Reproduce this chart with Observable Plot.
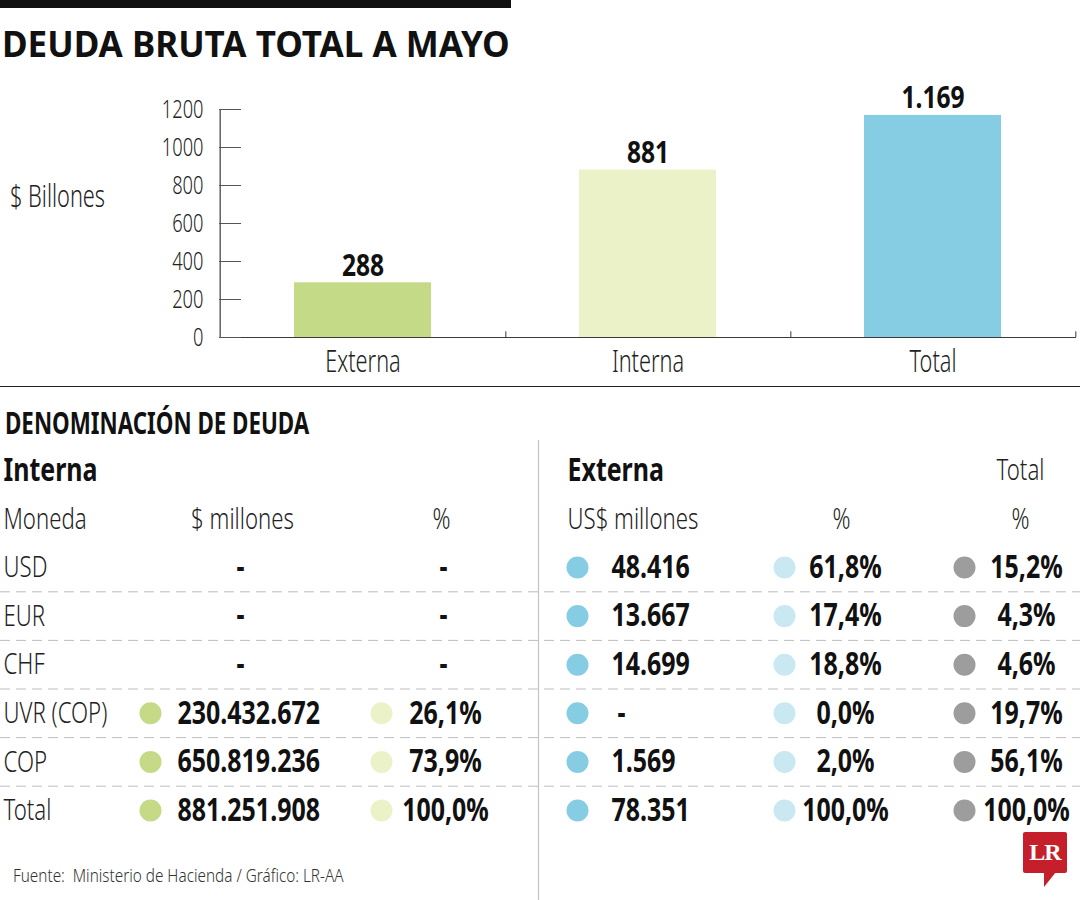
<!DOCTYPE html>
<html lang="es">
<head>
<meta charset="utf-8">
<title>Deuda bruta total a mayo</title>
<script src="https://cdn.jsdelivr.net/npm/d3@7"></script>
<script src="https://cdn.jsdelivr.net/npm/@observablehq/plot@0.6"></script>
<style>
  html, body { margin: 0; padding: 0; background: #fff; }
  #page { position: relative; width: 1080px; height: 900px; overflow: hidden; background: #fff; color: #1a1a1a;
          font-family: "Noto Sans", "Open Sans", sans-serif; }
  #page .abs { position: absolute; white-space: nowrap; line-height: 1; }
  /* condensed look: glyphs narrowed horizontally from the left edge */
  #page .narrow { transform-origin: 0 0; }
  #topbar { left: 0; top: 0; width: 511px; height: 8px; background: #111; }
  #title { left: 2px; top: 26px; font-size: 35px; font-weight: 700; color: #111; }
  #unit { left: 10px; top: 179px; font-size: 32px; font-weight: 300; color: #222; transform: scaleX(0.68); }
  #hr { left: 0; top: 386px; width: 1080px; height: 0; border-top: 1.5px solid #222; }
  #subtitle { left: 5px; top: 408px; font-size: 30px; font-weight: 700; color: #111; transform: scaleX(0.745); }
  #source { left: 13px; top: 866px; font-size: 18px; font-weight: 300; color: #333; transform: scaleX(0.85); }
  #bars { position: absolute; left: 0; top: 80px; }
  #table { position: absolute; left: 0; top: 440px; }
  #logo { left: 1023px; top: 832px; width: 44px; height: 41px; background: #c41f2b; color: #fff; border-radius: 2px;
          font-family: "Liberation Serif", "DejaVu Serif", serif; font-weight: 700; font-size: 24px;
          line-height: 41px !important; text-align: center; letter-spacing: -1px; }
  #logotail { left: 1044px; top: 872px; width: 0; height: 0; border-top: 15px solid #c41f2b; border-right: 12px solid transparent; }
  #page svg { font-family: "Noto Sans", "Open Sans", sans-serif; }
</style>
</head>
<body>
<div id="page">
  <div id="topbar" class="abs"></div>
  <div id="title" class="abs">DEUDA BRUTA TOTAL A MAYO</div>
  <div id="unit" class="abs narrow">$ Billones</div>
  <div id="bars"></div>
  <div id="hr" class="abs"></div>
  <div id="subtitle" class="abs narrow">DENOMINACIÓN DE DEUDA</div>
  <div id="table"></div>
  <div id="source" class="abs narrow">Fuente:&nbsp; Ministerio de Hacienda / Gráfico: LR-AA</div>
  <div id="logo" class="abs">LR</div>
  <div id="logotail" class="abs"></div>
</div>
<script>
// ---- Deuda bruta total (billones de pesos) ----
const cats = ["Externa", "Interna", "Total"];
const totals = [288, 881, 1169];
const barColors = ["#c5da87", "#ecf2c7", "#86cde4"];
const yTicks = [0, 200, 400, 600, 800, 1000, 1200];

// ---- Denominación de deuda ----
const monedas = ["USD", "EUR", "CHF", "UVR (COP)", "COP", "Total"];
const internaMillones = [null, null, null, 230432672, 650819236, 881251908];
const internaPct = [null, null, null, 26.1, 73.9, 100.0];
const externaMillones = [48416, 13667, 14699, null, 1569, 78351];
const externaPct = [61.8, 17.4, 18.8, 0.0, 2.0, 100.0];
const totalPct = [15.2, 4.3, 4.6, 19.7, 56.1, 100.0];

// Spanish number formatting: "." for thousands, "," for decimals
const es = d3.formatLocale({decimal: ",", thousands: ".", grouping: [3], currency: ["$", ""]});
const fmtInt = es.format(",d");
const fmtPct = (v) => es.format(".1f")(v) + "%";

const fontStack = '"Noto Sans", "Open Sans", sans-serif';
const W = 1080;

// Narrow every text of a rendered plot around its own anchor point,
// light text a bit more than bold text, for a condensed typeface look.
function condense(svg, lightScale = 0.7, boldScale = 0.78) {
  svg.querySelectorAll("text").forEach((t) => {
    const g = t.closest("[font-weight]");
    const w = g ? +g.getAttribute("font-weight") : 400;
    const s = w >= 600 ? boldScale : lightScale;
    let tr = t.getAttribute("transform") || "";
    if (t.hasAttribute("x")) {
      tr = `translate(${t.getAttribute("x")},0) ` + tr;
      t.removeAttribute("x");
    }
    t.setAttribute("transform", `${tr} scale(${s},1)`);
  });
  return svg;
}

// ---------- Bar chart ----------
const bm = {top: 29, right: 4, bottom: 50, left: 219};
const bandStep = (W - bm.left - bm.right) / cats.length;
const barData = cats.map((c, i) => ({cat: c, value: totals[i]}));
const axisColor = "#3a3a3a";

const bars = Plot.plot({
  width: W,
  height: 307,
  marginTop: bm.top, marginRight: bm.right, marginBottom: bm.bottom, marginLeft: bm.left,
  style: {fontFamily: fontStack, background: "transparent", overflow: "visible"},
  x: {domain: cats, padding: 0, label: null},
  y: {domain: [0, 1200], label: null},
  color: {domain: cats, range: barColors},
  marks: [
    Plot.barY(barData, {x: "cat", y: "value", fill: "cat", insetLeft: 74, insetRight: 74}),
    // vertical axis line at the left edge of the first band
    Plot.ruleX([cats[0]], {dx: -bandStep / 2, stroke: axisColor, strokeWidth: 1.2}),
    Plot.ruleY([0], {stroke: axisColor, strokeWidth: 1.2}),
    // small upward ticks at the right edge of each band
    Plot.ruleX(cats, {dx: bandStep / 2, y1: 0, y2: 30, stroke: axisColor}),
    Plot.axisY({ticks: yTicks, tickSize: -22, tickFormat: () => "", stroke: "#555", label: null}),
    Plot.axisY({ticks: yTicks, tickSize: 0, tickPadding: 16, tickFormat: d3.format("d"),
      fontSize: 26.5, fontWeight: 300, fill: "#222", label: null}),
    Plot.axisX({tickSize: 0, tickPadding: 12, fontSize: 31.5, fontWeight: 300, fill: "#222", label: null}),
    Plot.text(barData, {x: "cat", y: "value", text: (d) => fmtInt(d.value), lineAnchor: "bottom", dy: -7,
      fontSize: 30, fontWeight: 700, fill: "#111"})
  ]
});
document.getElementById("bars").append(condense(bars, 0.69, 0.82));

// ---------- Table ----------
const TH = 460;          // table svg height
const rowStep = 48.6;    // vertical distance between rows
const rowZero = 78.4;    // y of the column-header row inside the svg

// horizontal anchors for each column of the table
const col = {
  label: 3,
  intHead: 242, intDot: 150, intVal: 177, intDash: 240,
  intPctHead: 441, intPctDot: 381, intPct: 445, intPctDash: 443,
  divider: 538,
  extHead: 567, extDot: 577, extVal: 611, extDash: 617,
  extPctHead: 841, extPctDot: 784, extPct: 845,
  totHead: 1020, totDot: 964, totPct: 1026
};
const dotColor = {
  intDot: "#c5da87", intPctDot: "#ecf2c7",
  extDot: "#86cde4", extPctDot: "#c9e8f2", totDot: "#9d9d9d"
};

const cells = [
  {row: -1, key: "label", text: "Interna", anchor: "start", weight: 700},
  {row: -1, key: "extHead", text: "Externa", anchor: "start", weight: 700},
  {row: -1, key: "totHead", text: "Total", anchor: "middle", weight: 300},
  {row: 0, key: "label", text: "Moneda", anchor: "start", weight: 300},
  {row: 0, key: "intHead", text: "$ millones", anchor: "middle", weight: 300},
  {row: 0, key: "intPctHead", text: "%", anchor: "middle", weight: 300},
  {row: 0, key: "extHead", text: "US$ millones", anchor: "start", weight: 300},
  {row: 0, key: "extPctHead", text: "%", anchor: "middle", weight: 300},
  {row: 0, key: "totHead", text: "%", anchor: "middle", weight: 300}
];
const dots = [];
monedas.forEach((m, i) => {
  const row = i + 1;
  cells.push({row, key: "label", text: m, anchor: "start", weight: 300});
  if (internaMillones[i] == null) {
    cells.push({row, key: "intDash", text: "-", anchor: "middle", weight: 700});
    cells.push({row, key: "intPctDash", text: "-", anchor: "middle", weight: 700});
  } else {
    cells.push({row, key: "intVal", text: fmtInt(internaMillones[i]), anchor: "start", weight: 700});
    cells.push({row, key: "intPct", text: fmtPct(internaPct[i]), anchor: "middle", weight: 700});
    dots.push({row, key: "intDot"}, {row, key: "intPctDot"});
  }
  if (externaMillones[i] == null) {
    cells.push({row, key: "extDash", text: "-", anchor: "start", weight: 700});
  } else {
    cells.push({row, key: "extVal", text: fmtInt(externaMillones[i]), anchor: "start", weight: 700});
  }
  cells.push({row, key: "extPct", text: fmtPct(externaPct[i]), anchor: "middle", weight: 700});
  cells.push({row, key: "totPct", text: fmtPct(totalPct[i]), anchor: "middle", weight: 700});
  dots.push({row, key: "extDot"}, {row, key: "extPctDot"}, {row, key: "totDot"});
});
// dashed separators halfway between consecutive currency rows
const separators = monedas.slice(1).map((_, i) => i + 1.5);

const textMark = (anchor, weight) => Plot.text(
  cells.filter((d) => d.anchor === anchor && d.weight === weight),
  {
    x: (d) => col[d.key], y: "row", text: "text", textAnchor: anchor, lineAnchor: "middle",
    fontSize: weight === 700 ? 32 : 30, fontWeight: weight, fill: weight === 700 ? "#111" : "#222"
  }
);

const table = Plot.plot({
  width: W,
  height: TH,
  margin: 0,
  style: {fontFamily: fontStack, background: "transparent", overflow: "visible"},
  x: {domain: [0, W], range: [0, W], axis: null},
  y: {domain: [-rowZero / rowStep, (TH - rowZero) / rowStep], range: [0, TH], axis: null},
  color: {type: "identity"},
  marks: [
    Plot.ruleX([col.divider], {stroke: "#c4c4c4", strokeWidth: 1.2}),
    Plot.ruleY(separators, {stroke: "#bdbdbd", strokeDasharray: "10,6"}),
    Plot.dot(dots, {x: (d) => col[d.key], y: "row", r: 11, fill: (d) => dotColor[d.key]}),
    textMark("start", 300),
    textMark("middle", 300),
    textMark("start", 700),
    textMark("middle", 700)
  ]
});
document.getElementById("table").append(condense(table, 0.74, 0.78));
</script>
</body>
</html>
